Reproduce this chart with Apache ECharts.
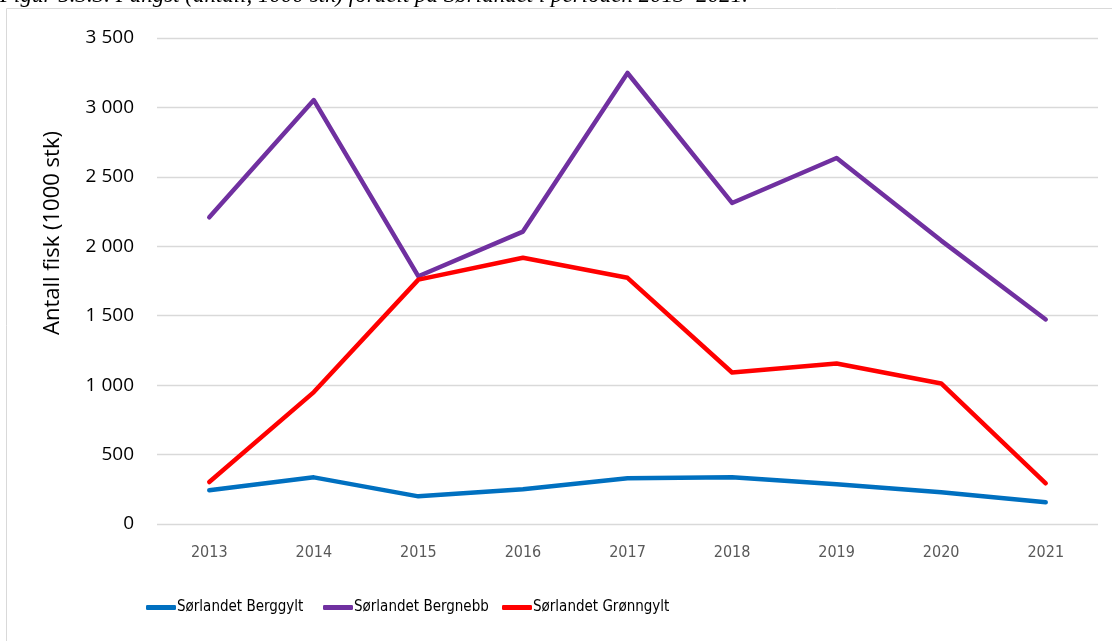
<!DOCTYPE html>
<html><head><meta charset="utf-8">
<script src="https://cdn.jsdelivr.net/npm/echarts@6/dist/echarts.min.js"></script>
<style>html,body{margin:0;padding:0;background:#fff}#c{width:1112px;height:641px}</style>
</head><body><div id="c"></div>
<script>
const years = ['2013','2014','2015','2016','2017','2018','2019','2020','2021'];
const berggylt = [243, 336, 199, 250, 329, 336, 286, 228, 156];
const bergnebb = [2209, 3053, 1784, 2106, 3248, 2312, 2636, 2041, 1473];
const gronngylt = [302, 950, 1760, 1917, 1773, 1091, 1156, 1012, 293];
const seriesNames = ['Sørlandet Berggylt', 'Sørlandet Bergnebb', 'Sørlandet Grønngylt'];
const colors = ['#0070C0', '#7030A0', '#FF0000'];
const narrow = '"DejaVu Sans Condensed", Lato, sans-serif';
const legendLeft = [141, 318, 497];

const chart = echarts.init(document.getElementById('c'));
function mk(name, data, color){
  return {name, type:'line', data, symbol:'none', color,
    lineStyle:{width:4.5, color, cap:'round', join:'round'}};
}
chart.setOption({
  animation:false,
  grid:{left:157, right:14, top:38, bottom:117},
  graphic:[
    {type:'rect', shape:{x:6.5, y:8.5, width:1120, height:640}, style:{fill:'none', stroke:'#d9d9d9', lineWidth:1}},
    {type:'text', left:0, top:-16, style:{text:'Figur 5.3.3. Fangst (antall, 1000 stk) fordelt på Sørlandet i perioden 2013–2021.', font:'italic 23px "Liberation Serif"', fill:'#000'}},
    {type:'text', x:53, y:233, rotation:Math.PI/2, style:{text:'Antall fisk (1000 stk)', font:'22px "Open Sans"', fill:'#000', align:'center', verticalAlign:'middle'}}
  ],
  legend: seriesNames.map((n,i)=>({bottom:21, left:legendLeft[i], itemWidth:30, itemHeight:5, icon:'roundRect',
    textStyle:{fontFamily:narrow, fontSize:15, color:'#000', padding:[0,0,0,-4]},
    data:[n]})),
  xAxis:{type:'category', data:years, boundaryGap:true,
    axisLine:{show:false}, axisTick:{show:false},
    axisLabel:{margin:21, color:'#595959', fontSize:16, fontFamily:narrow}},
  yAxis:{type:'value', min:0, max:3500, interval:500,
    axisLine:{show:false}, axisTick:{show:false},
    splitLine:{lineStyle:{color:'#d9d9d9', width:1.3}},
    axisLabel:{margin:23, color:'#000', fontSize:19, fontFamily:'"Open Sans"',
      formatter:v=>v>=1000?Math.floor(v/1000)+' '+String(v%1000).padStart(3,'0'):String(v)}},
  series:[mk(seriesNames[0], berggylt, colors[0]), mk(seriesNames[1], bergnebb, colors[1]), mk(seriesNames[2], gronngylt, colors[2])]
});
</script></body></html>
